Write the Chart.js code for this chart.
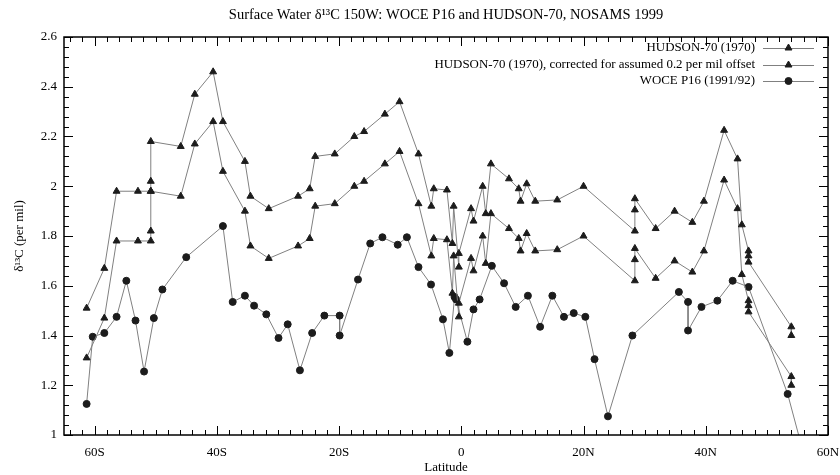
<!DOCTYPE html>
<html>
<head>
<meta charset="utf-8">
<script src="https://cdn.jsdelivr.net/npm/chart.js@4/dist/chart.umd.min.js"></script>
<style>
html,body{margin:0;padding:0;background:#fff;}
#wrap{width:840px;height:475px;}
</style>
</head>
<body>
<div id="wrap"><canvas id="c" width="840" height="475"></canvas></div>
<script>
// ---- text ----
const chartTitle = 'Surface Water δ¹³C 150W: WOCE P16 and HUDSON-70, NOSAMS 1999';
const xAxisTitle = 'Latitude';
const yAxisTitle = 'δ¹³C (per mil)';
const seriesLabels = [
  'HUDSON-70 (1970)',
  'HUDSON-70 (1970), corrected for assumed 0.2 per mil offset',
  'WOCE P16 (1991/92)'
];

// ---- tick labels ----
const xTickValues = [-60, -40, -20, 0, 20, 40, 60];
const xTickLabels = ['60S', '40S', '20S', '0', '20N', '40N', '60N'];
const yTickValues = [1, 1.2, 1.4, 1.6, 1.8, 2, 2.2, 2.4, 2.6];
const yTickLabels = ['1', '1.2', '1.4', '1.6', '1.8', '2', '2.2', '2.4', '2.6'];

// ---- HUDSON-70 (1970) ----
const hudsonLat = [-61.3, -58.4, -56.4, -52.9, -50.8, -50.8, -50.8, -45.9, -43.6, -40.6,
  -39.0, -35.4, -34.5, -31.5, -26.7, -24.8, -23.9, -20.7, -17.5, -15.9,
  -12.5, -10.1, -7.0, -4.9, -4.5, -2.35, -1.45, -1.25, -0.4, -0.4,
  1.6, 2.0, 3.5, 4.0, 4.85, 7.8, 9.4, 9.7, 10.7, 12.1,
  15.7, 20.0, 28.4, 28.4, 28.4, 31.8, 34.9, 37.8, 39.7, 43.0,
  45.2, 45.9, 47.0, 47.0, 47.0, 54.0, 54.0];
const hudsonD13C = [1.51, 1.67, 1.98, 1.98, 1.98, 2.02, 2.18, 2.16, 2.37, 2.46,
  2.26, 2.10, 1.96, 1.91, 1.96, 1.99, 2.12, 2.13, 2.20, 2.22,
  2.29, 2.34, 2.13, 1.92, 1.99, 1.985, 1.77, 1.92, 1.675, 1.73,
  1.91, 1.86, 2.00, 1.89, 2.09, 2.03, 1.99, 1.94, 2.01, 1.94,
  1.945, 2.00, 1.82, 1.905, 1.95, 1.83, 1.90, 1.855, 1.94, 2.225,
  2.11, 1.845, 1.74, 1.72, 1.695, 1.435, 1.40];
// ---- HUDSON-70 (1970), corrected ----
const hudsonCorrD13C = [1.31, 1.47, 1.78, 1.78, 1.78, 1.82, 1.98, 1.96, 2.17, 2.26,
  2.06, 1.90, 1.76, 1.71, 1.76, 1.79, 1.92, 1.93, 2.00, 2.02,
  2.09, 2.14, 1.93, 1.72, 1.79, 1.785, 1.57, 1.72, 1.475, 1.53,
  1.71, 1.66, 1.80, 1.69, 1.89, 1.83, 1.79, 1.74, 1.81, 1.74,
  1.745, 1.80, 1.62, 1.705, 1.75, 1.63, 1.70, 1.655, 1.74, 2.025,
  1.91, 1.645, 1.54, 1.52, 1.495, 1.235, 1.20];

// ---- WOCE P16 (1991/92) ----
const woceLat = [-61.3, -60.3, -58.4, -56.4, -54.8, -53.3, -51.9, -50.3, -48.9, -45.0,
  -39.0, -37.4, -35.4, -33.9, -31.9, -29.9, -28.4, -26.4, -24.4, -22.4,
  -19.9, -19.9, -16.9, -14.9, -12.9, -10.4, -8.9, -7.0, -4.95, -3.0,
  -1.95, -1.1, -0.85, 1.0, 2.0, 3.0, 5.0, 7.0, 8.9, 10.9,
  12.9, 14.9, 16.8, 18.4, 20.3, 21.8, 24.0, 28.0, 35.6, 37.1,
  37.1, 39.3, 41.9, 44.4, 47.0, 53.4, 56.5];
const woceD13C = [1.125, 1.395, 1.41, 1.475, 1.62, 1.46, 1.255, 1.47, 1.585, 1.715,
  1.84, 1.535, 1.56, 1.52, 1.485, 1.39, 1.445, 1.26, 1.41, 1.48,
  1.48, 1.40, 1.625, 1.77, 1.795, 1.765, 1.795, 1.675, 1.605, 1.465,
  1.33, 1.555, 1.545, 1.375, 1.505, 1.545, 1.68, 1.61, 1.515, 1.56,
  1.435, 1.56, 1.475, 1.49, 1.475, 1.305, 1.075, 1.40, 1.575, 1.535,
  1.42, 1.515, 1.54, 1.62, 1.595, 1.165, 0.88];

const toPts = (xs, ys) => xs.map((x, i) => ({ x: x, y: ys[i] }));

const FONT = '"Liberation Serif", "Times New Roman", serif';
const LINE = '#808080';
const MARK = '#1c1c1c';

function ds(label, data, style, r) {
  return {
    label: label, data: data, showLine: true,
    borderColor: LINE, borderWidth: 1, tension: 0,
    pointStyle: style, pointRadius: r, pointHoverRadius: r,
    pointBackgroundColor: MARK, pointBorderColor: MARK, pointBorderWidth: 1
  };
}

const framePlugin = {
  id: 'gpFrame',
  afterDatasetsDraw(chart) {
    const ctx = chart.ctx, ca = chart.chartArea;
    const xs = chart.scales.x, ys = chart.scales.y;
    ctx.save();
    ctx.strokeStyle = '#000';
    ctx.lineWidth = 1;
    ctx.beginPath();
    for (let k = -32; k <= 30; k++) {
      const v = k * 2;
      const px = Math.round(xs.getPixelForValue(v)) + 0.5;
      const L = (v % 20 === 0) ? 9 : 5;
      ctx.moveTo(px, ca.bottom); ctx.lineTo(px, ca.bottom - L);
      ctx.moveTo(px, ca.top); ctx.lineTo(px, ca.top + L);
    }
    for (let k = 0; k <= 40; k++) {
      const v = 1 + k * 0.04;
      const py = Math.round(ys.getPixelForValue(v)) + 0.5;
      const L = (k % 5 === 0) ? 9 : 5;
      ctx.moveTo(ca.left, py); ctx.lineTo(ca.left + L, py);
      ctx.moveTo(ca.right, py); ctx.lineTo(ca.right - L, py);
    }
    ctx.stroke();
    ctx.lineWidth = 1.5;
    ctx.strokeRect(ca.left, ca.top, ca.right - ca.left, ca.bottom - ca.top);
    ctx.restore();
  }
};

const legendPlugin = {
  id: 'gpLegend',
  afterDatasetsDraw(chart) {
    const ctx = chart.ctx, ca = chart.chartArea;
    const textRight = ca.right - 73;
    const x1 = ca.right - 65, x2 = ca.right - 14;
    const rows = [11, 28, 44];
    chart.data.datasets.forEach((d, i) => {
      const y = ca.top + rows[i];
      ctx.save();
      ctx.font = '12.9px ' + FONT;
      ctx.fillStyle = '#000';
      ctx.textAlign = 'right';
      ctx.textBaseline = 'middle';
      ctx.fillText(d.label, textRight, y);
      ctx.strokeStyle = d.borderColor;
      ctx.lineWidth = d.borderWidth;
      ctx.beginPath(); ctx.moveTo(x1, y + 0.5); ctx.lineTo(x2, y + 0.5); ctx.stroke();
      ctx.fillStyle = d.pointBackgroundColor;
      ctx.strokeStyle = d.pointBorderColor;
      ctx.lineWidth = d.pointBorderWidth;
      Chart.helpers.drawPoint(ctx, { pointStyle: d.pointStyle, radius: d.pointRadius, rotation: 0, borderWidth: d.pointBorderWidth }, (x1 + x2) / 2, y);
      ctx.restore();
    });
  }
};

new Chart(document.getElementById('c'), {
  type: 'scatter',
  data: {
    datasets: [
      ds(seriesLabels[0], toPts(hudsonLat, hudsonD13C), 'triangle', 4),
      ds(seriesLabels[1], toPts(hudsonLat, hudsonCorrD13C), 'triangle', 4),
      ds(seriesLabels[2], toPts(woceLat, woceD13C), 'circle', 3.5)
    ]
  },
  options: {
    responsive: false,
    animation: false,
    devicePixelRatio: 1,
    events: [],
    layout: { padding: { left: 0, right: 12, top: 0, bottom: 0 } },
    plugins: {
      legend: { display: false },
      tooltip: { enabled: false },
      title: {
        display: true, text: chartTitle, fullSize: false, color: '#000',
        font: { family: FONT, size: 14.5, weight: 'normal' },
        padding: { top: 6, bottom: 13.6 }
      }
    },
    scales: {
      x: {
        type: 'linear', min: -65, max: 60,
        grid: { display: false, drawTicks: false },
        border: { display: false },
        afterBuildTicks: s => { s.ticks = xTickValues.map(v => ({ value: v })); },
        afterFit: s => { s.height = 40; s.paddingLeft = 0; s.paddingRight = 0; },
        ticks: {
          includeBounds: false, autoSkip: false, maxRotation: 0, padding: 10, color: '#000',
          font: { family: FONT, size: 13 },
          callback: (v, i) => xTickLabels[i]
        },
        title: { display: true, text: xAxisTitle, color: '#000', padding: { top: 0, bottom: 0 },
          font: { family: FONT, size: 13 } }
      },
      y: {
        type: 'linear', min: 1, max: 2.6,
        grid: { display: false, drawTicks: false },
        border: { display: false },
        afterBuildTicks: s => { s.ticks = yTickValues.map(v => ({ value: v })); },
        afterFit: s => { s.width = 64; s.paddingTop = 0; s.paddingBottom = 0; },
        ticks: {
          includeBounds: false, autoSkip: false, padding: 7, color: '#000',
          font: { family: FONT, size: 13 },
          callback: (v, i) => yTickLabels[i]
        },
        title: { display: true, text: yAxisTitle, color: '#000', padding: { top: 12, bottom: 0 },
          font: { family: FONT, size: 13 } }
      }
    }
  },
  plugins: [framePlugin, legendPlugin]
});
</script>
</body>
</html>
